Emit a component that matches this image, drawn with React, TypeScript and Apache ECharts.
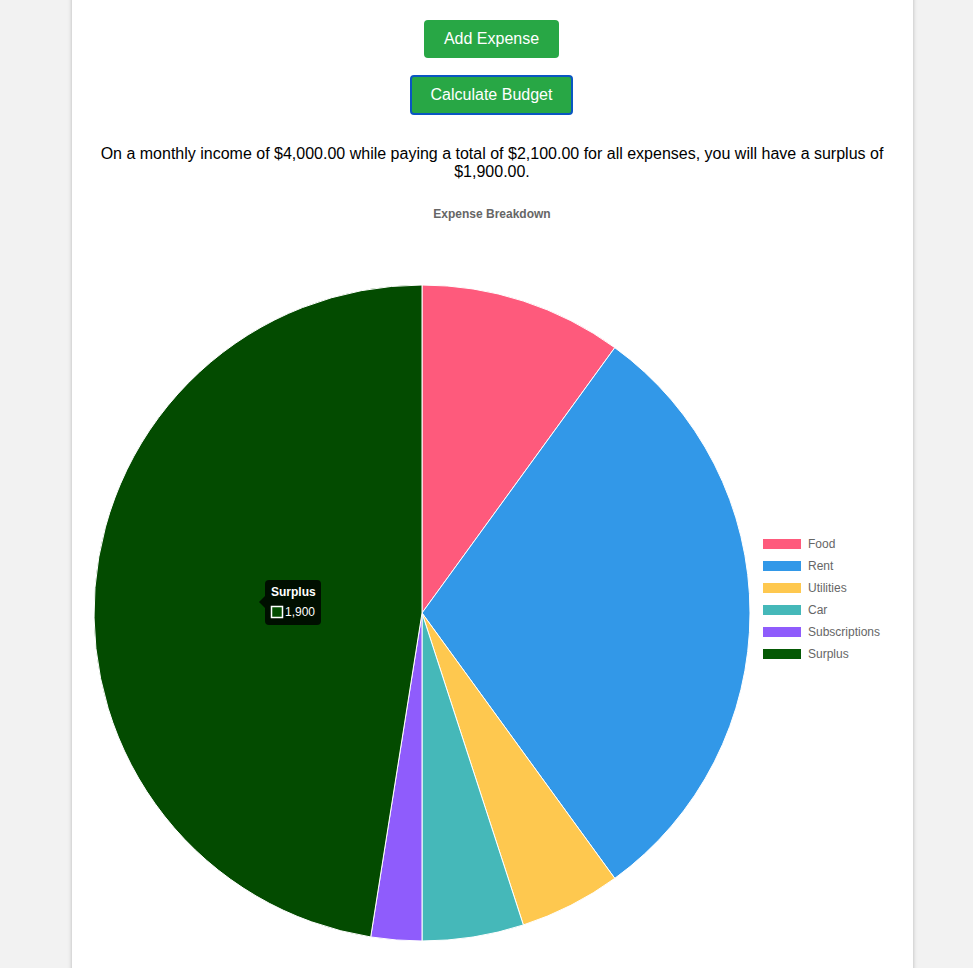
import React, { useEffect, useRef } from "react";
import * as echarts from "echarts";

const categories = ["Food", "Rent", "Utilities", "Car", "Subscriptions", "Surplus"];
const values = [400, 1200, 200, 200, 100, 1900];
const sliceColors = ["#fe5a7c", "#3298e8", "#fec84f", "#45b8b9", "#8f5cfc", "#034b00"];
const legendColors = ["#fe5a7c", "#3298e8", "#fec84f", "#45b8b9", "#8f5cfc", "#045904"];
const income = 4000;
const hovered = "Surplus";

const fmt = (n: number) => n.toLocaleString("en-US", { minimumFractionDigits: 2, maximumFractionDigits: 2 });

export default function App() {
  const ref = useRef<HTMLDivElement>(null);
  const expenses = values.slice(0, 5).reduce((a, b) => a + b, 0);
  const surplus = income - expenses;
  const sentence = `On a monthly income of $${fmt(income)} while paying a total of $${fmt(expenses)} for all expenses, you will have a surplus of $${fmt(surplus)}.`;

  useEffect(() => {
    document.body.style.margin = "0";
    const chart = echarts.init(ref.current!, null, { renderer: "svg" });
    const hi = categories.indexOf(hovered);
    chart.setOption({
      animation: false,
      title: {
        text: "Expense Breakdown",
        left: 487,
        top: 203,
        textAlign: "center",
        textStyle: { fontFamily: "Liberation Sans, Arial", fontSize: 12, fontWeight: "bold", color: "#666" },
      },
      legend: {
        orient: "vertical",
        left: 758,
        top: 533,
        itemWidth: 38,
        itemHeight: 10,
        itemGap: 10,
        icon: "rect",
        selectedMode: false,
        textStyle: { fontFamily: "Liberation Sans, Arial", fontSize: 12, color: "#666", lineHeight: 12, padding: [0, 0, 0, 2] },
        data: categories.map((c, i) => ({ name: c, itemStyle: { color: legendColors[i], borderWidth: 0 } })),
      },
      series: [
        {
          type: "pie",
          center: [422, 613],
          radius: [0, 328],
          startAngle: 90,
          clockwise: true,
          silent: true,
          label: { show: false },
          labelLine: { show: false },
          emphasis: { disabled: true },
          itemStyle: { borderColor: "#fff", borderWidth: 1 },
          data: categories.map((c, i) => ({ name: c, value: values[i], itemStyle: { color: sliceColors[i] } })),
        },
      ],
      graphic: [
        {
          type: "group",
          left: 259,
          top: 580,
          z: 100,
          children: [
            { type: "polygon", z: 100, shape: { points: [[0, 22], [6, 16], [6, 28]] }, style: { fill: "rgba(0,0,0,0.8)" } },
            { type: "rect", z: 100, shape: { x: 6, y: 0, width: 56, height: 45, r: 4 }, style: { fill: "rgba(0,0,0,0.8)" } },
            {
              type: "text",
              z: 101,
              x: 12,
              y: 6,
              style: { text: categories[hi], fill: "#fff", font: "bold 12px 'Liberation Sans', Arial" },
            },
            { type: "rect", z: 101, shape: { x: 12.5, y: 26.5, width: 11, height: 11 }, style: { fill: sliceColors[hi], stroke: "#fff", lineWidth: 1.5 } },
            {
              type: "text",
              z: 101,
              x: 26,
              y: 26,
              style: { text: values[hi].toLocaleString("en-US"), fill: "#fff", font: "12px 'Liberation Sans', Arial" },
            },
          ],
        },
      ],
    });
    return () => chart.dispose();
  }, []);

  const btn: React.CSSProperties = {
    position: "absolute",
    background: "#28a745",
    color: "#fff",
    fontFamily: "'Liberation Sans', Arial, sans-serif",
    fontSize: 16,
    borderRadius: 4,
    display: "flex",
    alignItems: "center",
    justifyContent: "center",
    boxSizing: "border-box",
  };

  return (
    <div style={{ position: "fixed", left: 0, top: 0, width: 973, height: 968, background: "#f2f2f2", overflow: "hidden" }}>
      <div
        style={{
          position: "absolute",
          left: 72,
          top: -10,
          width: 841,
          height: 1000,
          background: "#fff",
          boxShadow: "0 0 4px rgba(0,0,0,0.25)",
        }}
      />
      <div style={{ ...btn, left: 424, top: 20, width: 135, height: 38 }}>Add Expense</div>
      <div style={{ ...btn, left: 410, top: 75, width: 163, height: 40, border: "2px solid #0a56c2" }}>Calculate Budget</div>
      <div
        style={{
          position: "absolute",
          left: 82,
          width: 820,
          top: 145,
          textAlign: "center",
          fontFamily: "'Liberation Sans', Arial, sans-serif",
          fontSize: 16,
          lineHeight: "18px",
          color: "#000",
        }}
      >
        {sentence}
      </div>
      <div ref={ref} style={{ position: "absolute", left: 0, top: 0, width: 973, height: 968 }} />
    </div>
  );
}
